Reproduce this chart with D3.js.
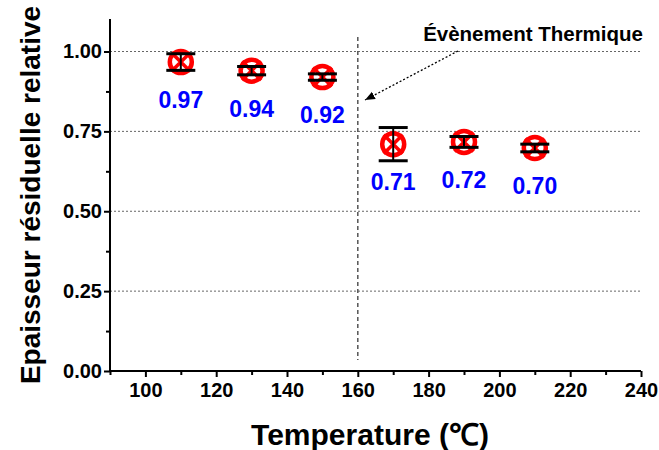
<!DOCTYPE html>
<html><head><meta charset="utf-8">
<script src="https://cdn.jsdelivr.net/npm/d3@7"></script>
<style>
body{margin:0;background:#fff;}
text{font-family:"Liberation Sans",Arial,sans-serif;font-weight:bold;}
</style></head>
<body><svg id="c" width="659" height="450"></svg>
<script>
const temps = [110, 130, 150, 170, 190, 210];
const values = [0.967, 0.94, 0.92, 0.71, 0.717, 0.698];
const errors = [0.026, 0.013, 0.01, 0.052, 0.017, 0.012];
const labels = ["0.97", "0.94", "0.92", "0.71", "0.72", "0.70"];
const xTicks = [100, 120, 140, 160, 180, 200, 220, 240];
const yTicks = [0, 0.25, 0.5, 0.75, 1.0];
const eventTemp = 160;
const annotation = "Évènement Thermique";

const svg = d3.select("#c");
const x = d3.scaleLinear().domain([90, 240]).range([110, 641]);
const y = d3.scaleLinear().domain([0, 1]).range([371, 51.5]);
const yTop = 19;

// gridlines
svg.append("g").selectAll("line").data(yTicks.filter(d => d > 0)).join("line")
  .attr("x1", x(90)).attr("x2", x(240)).attr("y1", d => y(d)).attr("y2", d => y(d))
  .attr("stroke", "#666").attr("stroke-width", 1).attr("stroke-dasharray", "2,2");

// event line
svg.append("line").attr("x1", x(eventTemp)).attr("x2", x(eventTemp))
  .attr("y1", 37).attr("y2", 360).attr("stroke", "#555").attr("stroke-width", 1.5)
  .attr("stroke-dasharray", "4,3");

// axes
const xAxis = d3.axisBottom(x).tickValues(d3.range(90, 241, 10)).tickSize(5)
  .tickFormat(d => xTicks.includes(d) ? d : "");
const gx = svg.append("g").attr("transform", `translate(0,${y(0)})`).call(xAxis);
gx.select(".domain").attr("stroke", "#000").attr("stroke-width", 2).attr("d", `M${x(90)},0H${x(240)}`);
gx.selectAll(".tick line").attr("stroke", "#000").attr("stroke-width", 2)
  .attr("y2", d => xTicks.includes(d) ? 6 : 4);
gx.selectAll(".tick text").attr("font-size", 20).attr("dy", "0.9em").attr("fill", "#000");

const yMinor = d3.range(0, 1.01, 0.125);
const yAxis = d3.axisLeft(y).tickValues(yMinor).tickSize(5)
  .tickFormat(d => yTicks.some(t => Math.abs(t - d) < 1e-9) ? d3.format(".2f")(d) : "");
const gy = svg.append("g").attr("transform", `translate(${x(90)},0)`).call(yAxis);
gy.select(".domain").attr("stroke", "#000").attr("stroke-width", 2).attr("d", `M0,${yTop}V${y(0)}`);
gy.selectAll(".tick line").attr("stroke", "#000").attr("stroke-width", 2)
  .attr("x2", d => yTicks.some(t => Math.abs(t - d) < 1e-9) ? -6 : -4);
gy.selectAll(".tick text").attr("font-size", 20).attr("fill", "#000").attr("x", -8);

// markers
const pts = svg.append("g").selectAll("g").data(temps).join("g")
  .attr("transform", (d, i) => `translate(${x(d)},${y(values[i])})`);
pts.append("circle").attr("r", 11).attr("fill", "none").attr("stroke", "#ff0000").attr("stroke-width", 4.5);
pts.append("path").attr("d", "M-9.5,-9.5L9.5,9.5M-9.5,9.5L9.5,-9.5").attr("stroke", "#ff0000").attr("stroke-width", 3.5);

// error bars
const eb = svg.append("g").selectAll("g").data(temps).join("g");
eb.append("line").attr("x1", d => x(d)).attr("x2", d => x(d))
  .attr("y1", (d, i) => y(values[i] + errors[i])).attr("y2", (d, i) => y(values[i] - errors[i]))
  .attr("stroke", "#000").attr("stroke-width", 2);
eb.append("line").attr("x1", d => x(d) - 14.5).attr("x2", d => x(d) + 14.5)
  .attr("y1", (d, i) => y(values[i] + errors[i])).attr("y2", (d, i) => y(values[i] + errors[i]))
  .attr("stroke", "#000").attr("stroke-width", 3);
eb.append("line").attr("x1", d => x(d) - 14.5).attr("x2", d => x(d) + 14.5)
  .attr("y1", (d, i) => y(values[i] - errors[i])).attr("y2", (d, i) => y(values[i] - errors[i]))
  .attr("stroke", "#000").attr("stroke-width", 3);

// value labels
svg.append("g").selectAll("text").data(temps).join("text")
  .attr("x", d => x(d)).attr("y", (d, i) => y(values[i]) + 46)
  .attr("text-anchor", "middle").attr("font-size", 23).attr("fill", "#0000ff")
  .text((d, i) => labels[i]);

// annotation
svg.append("text").attr("x", 643).attr("y", 41).attr("text-anchor", "end")
  .attr("font-size", 20.5).attr("fill", "#000").text(annotation);
svg.append("defs").append("marker").attr("id", "ah").attr("viewBox", "0 0 10 10")
  .attr("refX", 10).attr("refY", 5).attr("markerWidth", 10).attr("markerHeight", 10)
  .attr("markerUnits", "userSpaceOnUse").attr("orient", "auto")
  .append("path").attr("d", "M0,1L10,5L0,9Z").attr("fill", "#000");
svg.append("line").attr("x1", 458).attr("y1", 51).attr("x2", 365).attr("y2", 100)
  .attr("stroke", "#000").attr("stroke-width", 1.3).attr("stroke-dasharray", "2,2")
  .attr("marker-end", "url(#ah)");

// axis titles
svg.append("text").attr("x", 370).attr("y", 445).attr("text-anchor", "middle")
  .attr("font-size", 30).attr("fill", "#000").text("Temperature (℃)");
svg.append("text").attr("transform", "translate(40,195) rotate(-90)")
  .attr("text-anchor", "middle").attr("font-size", 28).attr("fill", "#000")
  .text("Epaisseur résiduelle relative");
</script></body></html>
